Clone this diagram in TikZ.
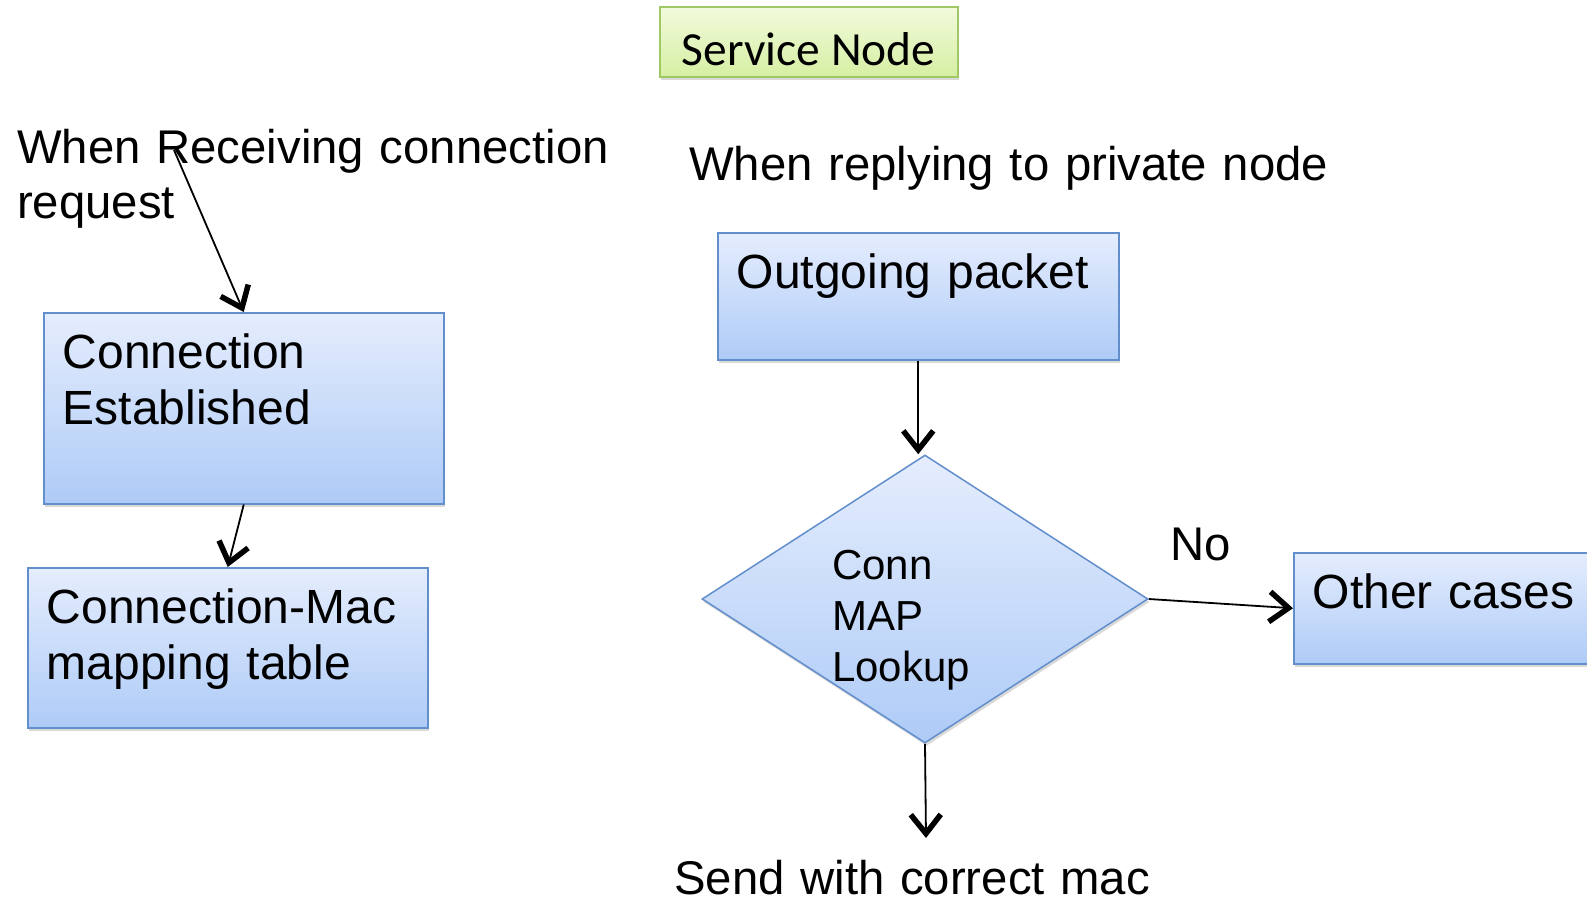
\documentclass[tikz,border=0pt]{standalone}
\usepackage{fontspec}
\setmainfont{Liberation Sans}
\newfontfamily\calfont{Carlito}
\usetikzlibrary{arrows.meta, shapes.geometric, shadows}
\definecolor{boxtop}{RGB}{229,237,253}
\definecolor{boxbot}{RGB}{174,203,247}
\definecolor{boxln}{RGB}{98,142,204}
\definecolor{svctop}{RGB}{242,250,220}
\definecolor{svcbot}{RGB}{214,239,163}
\definecolor{svcln}{RGB}{160,200,100}
\tikzstyle{shd}=[drop shadow={shadow xshift=1.5pt,shadow yshift=-3pt,opacity=.3}]
\tikzstyle{blk}=[rectangle,draw=boxln,line width=1.5pt,top color=boxtop,bottom color=boxbot,shd,anchor=north west,inner xsep=19pt,inner ysep=0pt,text height=56pt,font=\fontsize{48}{56}\selectfont]
\tikzstyle{svc}=[rectangle,draw=svcln,line width=1.5pt,top color=svctop,bottom color=svcbot,shd,anchor=north west,inner sep=0pt,font=\calfont\fontsize{47.5}{56}\selectfont]
\tikzstyle{dec}=[diamond,draw=boxln,line width=1.5pt,top color=boxtop,bottom color=boxbot,shd,inner sep=0pt]
\tikzstyle{lbl}=[anchor=base west,inner sep=0pt,font=\fontsize{47.3}{55}\selectfont]
\tikzstyle{arr}=[line width=1.8pt,-{Straight Barb[length=19pt,width=30pt,line width=5.5pt 0]}]

\begin{document}
\begin{tikzpicture}[x=1pt,y=-1pt]
    \useasboundingbox (0,0) rectangle (1587,902);
    \clip (0,0) rectangle (1587,902);
    % title
    \node[svc,minimum width=298pt,text height=59pt,text depth=11pt] (srv) at (659,6) {Service Node};
    % left side
    \node[lbl,text width=620pt] (rcv) at (17,163) {When Receiving connection\\request};
    \node[blk,text width=362pt,text depth=135pt] (est) at (43,312) {Connection\\Established};
    \node[blk,text width=362pt,text depth=104pt] (cmt) at (27,567) {Connection-Mac\\mapping table};
    % right side
    \node[lbl,text width=700pt] (rep) at (689,180) {When replying to private node};
    \node[blk,text width=363pt,text depth=71pt] (out) at (717,232) {Outgoing packet};
    \node[dec,minimum width=446pt,minimum height=288pt] (look) at (925,599) {};
    \node[lbl,text width=200pt,font=\fontsize{42}{51}\selectfont] (looktxt) at (832,579) {Conn\\MAP\\Lookup};
    \node[lbl,text width=80pt] (no) at (1170,560) {No};
    \node[blk,text width=362pt,text depth=55pt] (oth) at (1293,552) {Other cases};
    \node[lbl,text width=500pt] (snd) at (674,894) {Send with correct mac};
    % connectors
    \coordinate (rcvtail) at (174,150);
    \coordinate (sndtip) at (926,838);
    \draw[arr] (rcvtail) -- (est.north);
    \draw[arr] (est.south) -- (cmt.north);
    \draw[arr] (out.south) -- (out.south |- look.north);
    \draw[arr] (look.east) -- (oth.west);
    \draw[arr] (look.south) -- (sndtip);
\end{tikzpicture}
\end{document}
